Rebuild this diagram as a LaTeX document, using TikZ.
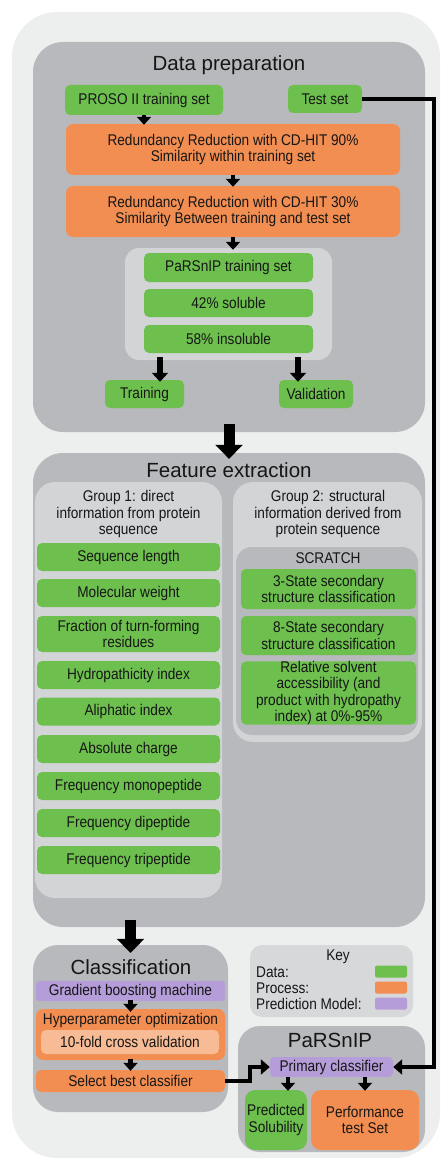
\documentclass[tikz,border=0pt]{standalone}
\usepackage{fontspec}
\setmainfont{Liberation Sans}[FakeStretch=0.88]
\newfontfamily\titlefont{Liberation Sans}
\usetikzlibrary{arrows.meta}
\definecolor{panel}{HTML}{EDEEEE}
\definecolor{contg}{HTML}{B8B9BC}
\definecolor{lightg}{HTML}{D2D4D6}
\definecolor{keyg}{HTML}{D6D8DA}
\definecolor{grn}{HTML}{6DC04E}
\definecolor{org}{HTML}{F28E51}
\definecolor{lorg}{HTML}{F7BB95}
\definecolor{prp}{HTML}{B49DD8}
\definecolor{txt}{HTML}{161616}
\newcommand\myfs{\fontsize{15.5}{16.2}\selectfont}
\newcommand\myft{\titlefont\fontsize{20.5}{24}\selectfont}
\tikzset{
  wh/.style 2 args={minimum width=#1pt, minimum height=#2pt},
  bx/.style={inner sep=0pt, align=center, font=\myfs, text=txt},
  cont/.style={bx, fill=contg, rounded corners=30pt},
  grp/.style={bx, fill=lightg, rounded corners=20pt},
  gbox/.style={bx, fill=grn, rounded corners=5pt},
  obox/.style={bx, fill=org, rounded corners=7pt},
  pbox/.style={bx, fill=prp, rounded corners=5pt},
  lbl/.style={bx},
  title/.style={inner sep=0pt, font=\myft, text=txt},
  arrs/.style={line width=4.5pt, -{Triangle[width=14pt,length=8pt]}},
  arrm/.style={line width=6pt, -{Triangle[width=16pt,length=9pt]}},
  arrb/.style={line width=11pt, -{Triangle[width=27pt,length=14pt]}},
  conn/.style={line width=4.5pt, -{Triangle[width=15pt,length=9pt]}},
}
\begin{document}
\begin{tikzpicture}[x=1pt,y=-1pt]
\useasboundingbox (0,0) rectangle (442,1161);
\fill[panel, rounded corners=45pt] (12,12) rectangle (440,1158);

% ---------------- Data preparation
\node[cont, wh={392}{390}] (dp) at (229,237) {};
\node[title] (dpt) at (229,65) {Data preparation};
\node[gbox, wh={158}{30}] (proso) at (144,100) {PROSO II training set};
\node[gbox, wh={74}{28}] (test) at (325,99) {Test set};
\node[obox, wh={334}{51}] (rr1) at (233,149.5) {Redundancy Reduction with CD-HIT 90\%\\Similarity within training set};
\node[obox, wh={334}{51}] (rr2) at (233,211.5) {Redundancy Reduction with CD-HIT 30\%\\Similarity Between training and test set};
\node[grp, rounded corners=14pt, wh={207}{112}] (pgrp) at (228.5,304) {};
\node[gbox, wh={169}{29}] (ptrain) at (228.5,267.5) {PaRSnIP training set};
\node[gbox, wh={169}{28}] (sol) at (228.5,303) {42\% soluble};
\node[gbox, wh={169}{28}] (insol) at (228.5,339) {58\% insoluble};
\node[gbox, wh={79}{28}] (train) at (144.5,394) {Training};
\node[gbox, wh={74}{28}] (valid) at (316,394) {Validation};

\draw[arrs] (proso.south) -- ([yshift=-1pt]proso.south |- rr1.north);
\draw[arrs] (rr1.south) -- ([yshift=-1pt]rr2.north);
\draw[arrs] (rr2.south) -- ([yshift=-2pt]rr2.south |- pgrp.north);
\draw[arrm] ([xshift=15.5pt, yshift=3pt]train.north |- pgrp.south) -- ([xshift=15.5pt, yshift=-2pt]train.north);
\draw[arrm] ([xshift=-18pt, yshift=3pt]valid.north |- pgrp.south) -- ([xshift=-18pt, yshift=-2pt]valid.north);

% ---------------- Feature extraction
\node[cont, wh={392}{474}] (fe) at (229,690) {};
\node[title] (fet) at (229,470) {Feature extraction};
\node[grp, wh={187}{416}] (g1) at (128.5,690) {};
\node[lbl] (g1t) at (128.5,514) {Group 1: direct\\information from protein\\sequence};
\node[gbox, wh={183}{28}] (f1) at (128.5,557) {Sequence length};
\node[gbox, wh={183}{28}] (f2) at (128.5,593) {Molecular weight};
\node[gbox, wh={183}{36}] (f3) at (128.5,634) {Fraction of turn-forming\\residues};
\node[gbox, wh={183}{28}] (f4) at (128.5,675) {Hydropathicity index};
\node[gbox, wh={183}{28}] (f5) at (128.5,711.5) {Aliphatic index};
\node[gbox, wh={183}{28}] (f6) at (128.5,749) {Absolute charge};
\node[gbox, wh={183}{28}] (f7) at (128.5,786) {Frequency monopeptide};
\node[gbox, wh={183}{28}] (f8) at (128.5,823) {Frequency dipeptide};
\node[gbox, wh={183}{28}] (f9) at (128.5,860) {Frequency tripeptide};

\node[grp, wh={189}{260}] (g2) at (327.5,612) {};
\node[lbl] (g2t) at (328,514) {Group 2: structural\\information derived from\\protein sequence};
\node[cont, rounded corners=16pt, wh={182}{188}] (scr) at (327,641) {};
\node[lbl] (scrt) at (328,558) {SCRATCH};
\node[gbox, wh={175}{40}] (s3) at (328.5,589) {3-State secondary\\structure classification};
\node[gbox, wh={175}{39}] (s8) at (328.5,635.5) {8-State secondary\\structure classification};
\node[gbox, wh={175}{62}] (rsa) at (328.5,693) {Relative solvent\\accessibility (and\\product with hydropathy\\index) at 0\%-95\%};

\path (fe.north) coordinate (fen);
\path (dp.south) coordinate (dps);
\draw[arrb] ([yshift=8pt]dps) -- ([yshift=-6pt]fen);

% ---------------- Classification
\node[cont, rounded corners=25pt, wh={195}{167}] (cl) at (130.5,1028.5) {};
\node[title] (clt) at (131,967) {Classification};
\node[pbox, rounded corners=3pt, wh={189}{20}] (gbm) at (130.5,991) {Gradient boosting machine};
\node[obox, wh={189}{51}] (hyp) at (130.5,1034.5) {};
\node[lbl] (hypt) at (130.5,1020) {Hyperparameter optimization};
\node[bx, fill=lorg, rounded corners=5pt, wh={178}{24}] (cv) at (130,1042) {10-fold cross validation};
\node[obox, rounded corners=5pt, wh={189}{22}] (sel) at (130.5,1081) {Select best classifier};

\draw[arrs] ([yshift=1pt]gbm.south) -- ([yshift=-3pt]hyp.north);
\draw[arrs] ([yshift=1pt]hyp.south) -- ([yshift=-1pt]sel.north);

\path (cl.north |- fe.south) coordinate (fes);
\draw[arrb] ([yshift=7pt]fes) -- ([yshift=-8pt]cl.north);

% ---------------- Key
\node[bx, fill=keyg, rounded corners=12pt, wh={163}{72}] (key) at (331.5,981) {};
\node[lbl] (keyt) at (338,957) {Key};
\node[lbl, anchor=west] (kd) at (256,972) {Data:};
\node[lbl, anchor=west] (kp) at (256,988) {Process:};
\node[lbl, anchor=west] (km) at (256,1004) {Prediction Model:};
\node[bx, fill=grn, rounded corners=2pt, wh={32}{12}] (swd) at (391,971.5) {};
\node[bx, fill=org, rounded corners=2pt, wh={32}{12}] (swp) at (391,987.5) {};
\node[bx, fill=prp, rounded corners=2pt, wh={32}{12}] (swm) at (391,1003.5) {};

% ---------------- PaRSnIP
\node[cont, rounded corners=22pt, wh={187}{126}] (ps) at (331.5,1089) {};
\node[title] (pst) at (330,1040) {PaRSnIP};
\node[pbox, rounded corners=4pt, wh={123}{20}] (prim) at (331.5,1067) {Primary classifier};
\node[gbox, rounded corners=10pt, wh={62}{60}] (pred) at (276,1120) {Predicted\\Solubility};
\node[obox, rounded corners=10pt, wh={108}{60}] (perf) at (365,1120) {Performance\\test Set};

\draw[arrs] ([xshift=12pt]pred.north |- prim.south) -- ([xshift=12pt, yshift=-1pt]pred.north);
\draw[arrs] (perf.north |- prim.south) -- ([yshift=-1pt]perf.north);

% ---------------- connectors
\draw[conn] (sel.east) -- ++(25,0) |- (prim.west);
\coordinate (rt) at (434,500);
\draw[conn] (test.east) -| (rt) |- (prim.east);
\end{tikzpicture}
\end{document}
